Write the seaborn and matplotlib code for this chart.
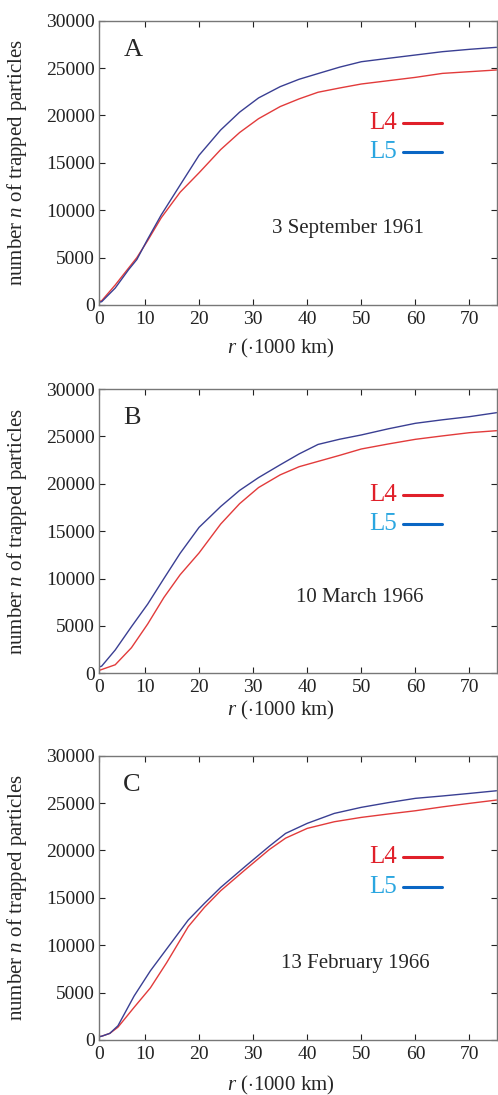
import pandas as pd
import numpy as np
import matplotlib
matplotlib.use("Agg")
import matplotlib.pyplot as plt
import seaborn as sns

# distance r (x1000 km) and number of trapped particles
r_a = [0, 2, 4.5, 7, 8.5, 10.5, 13, 16.5, 20, 24, 27.5, 31, 35, 38.5, 42, 46, 50, 55, 60, 65, 70, 75]
l4_a = [100, 450, 2110, 3920, 5000, 6800, 9200, 11900, 13950, 16400, 18200, 19660, 20940, 21750,
        22450, 22900, 23320, 23670, 24020, 24440, 24620, 24800]
l5_a = [100, 350, 1790, 3750, 4800, 6950, 9500, 12660, 15800, 18470, 20350, 21850, 23040, 23820,
        24420, 25100, 25670, 26030, 26380, 26730, 26980, 27190]

r_b = [0, 2, 4.5, 7.5, 10.5, 13.5, 16.5, 20, 24, 27.5, 31, 35, 38.5, 42, 46, 50, 55, 60, 65, 70, 75]
l4_b = [0, 400, 900, 2700, 5200, 8000, 10400, 12700, 15750, 17900, 19600, 20940, 21800, 22360,
        23000, 23670, 24200, 24690, 25050, 25390, 25600]
l5_b = [350, 760, 2460, 4920, 7300, 10000, 12660, 15400, 17600, 19300, 20650, 22000, 23150, 24150,
        24700, 25150, 25800, 26380, 26750, 27080, 27500]

r_c = [0, 2, 3.5, 5, 8, 11, 14, 18, 21, 24, 28.5, 33, 36, 40, 45, 50, 55, 60, 65, 70, 75]
l4_c = [180, 400, 700, 1350, 3450, 5500, 8150, 11960, 14000, 15750, 17950, 20100, 21300, 22330,
        23030, 23490, 23850, 24190, 24600, 24970, 25320]
l5_c = [180, 400, 700, 1500, 4650, 7300, 9600, 12660, 14420, 16100, 18300, 20450, 21800, 22860,
        23910, 24550, 25050, 25500, 25750, 26020, 26300]

panels = ["A", "B", "C"]
dates = ["3 September 1961", "10 March 1966", "13 February 1966"]
date_x = [47.5, 49.8, 48.9]
legend_y = [(19200, 16140), (18810, 15720), (19280, 16180)]
series = [(r_a, l4_a, l5_a), (r_b, l4_b, l5_b), (r_c, l4_c, l5_c)]

sns.set_style("ticks")
plt.rcParams["font.family"] = ["Liberation Serif", "DejaVu Serif"]
plt.rcParams["mathtext.fontset"] = "custom"
plt.rcParams["mathtext.rm"] = "Liberation Serif"
plt.rcParams["mathtext.it"] = "Liberation Serif:italic"

fig = plt.figure(figsize=(4.98, 10.95), dpi=100)
W, H = 498, 1095
tops = [20.7, 389, 755.7]
bottoms = [305, 673.3, 1040]
xlab_y = [348, 710, 1085]

for i in range(3):
    r, l4, l5 = series[i]
    df = pd.DataFrame({
        "r": r + r,
        "n": l4 + l5,
        "point": ["L4"] * len(r) + ["L5"] * len(r),
    })
    ax = fig.add_axes([99 / W, 1 - bottoms[i] / H, 397.5 / W, (bottoms[i] - tops[i]) / H])
    sns.lineplot(data=df, x="r", y="n", hue="point", palette={"L4": "#e23b3b", "L5": "#3a3f93"},
                 linewidth=1.0, legend=False, ax=ax)
    ax.set_xlim(1.5, 75)
    ax.set_ylim(0, 30000)
    ax.set_xticks([1.5, 10, 20, 30, 40, 50, 60, 70])
    ax.set_xticklabels(["0", "10", "20", "30", "40", "50", "60", "70"])
    ax.set_yticks(np.arange(0, 30001, 5000))
    ax.tick_params(direction="in", top=True, right=True, labelsize=14, length=4, width=0.8,
                   colors="#222222", pad=3)
    ax.tick_params(axis="x", pad=4)
    for s in ax.spines.values():
        s.set_color("#777777")
        s.set_linewidth(1.0)
    ax.set_xlabel("")
    ax.set_ylabel(r"number $n$ of trapped particles", fontsize=15)
    ax.yaxis.set_label_coords(-0.176, 0.5)
    fig.text(281 / W, 1 - xlab_y[i] / H, r"$r$ ($\cdot$1000 km)",
             fontsize=15, ha="center", va="center")

    ax.text(6.0, 26950, panels[i], fontsize=19, ha="left", va="center")
    ax.text(date_x[i], 8050, dates[i], fontsize=15, ha="center", va="center")

    # legend drawn by hand as in the original
    y4, y5 = legend_y[i]
    ax.text(56.6, y4, "L4", color="#e0202a", fontsize=18, ha="right", va="center")
    ax.plot([57.7, 65], [y4, y4], color="#e0202a", lw=2.2)
    ax.text(56.6, y5, "L5", color="#2aa6e0", fontsize=18, ha="right", va="center")
    ax.plot([57.7, 65], [y5, y5], color="#0a66c4", lw=2.2)

fig.savefig("out.png", dpi=100)
